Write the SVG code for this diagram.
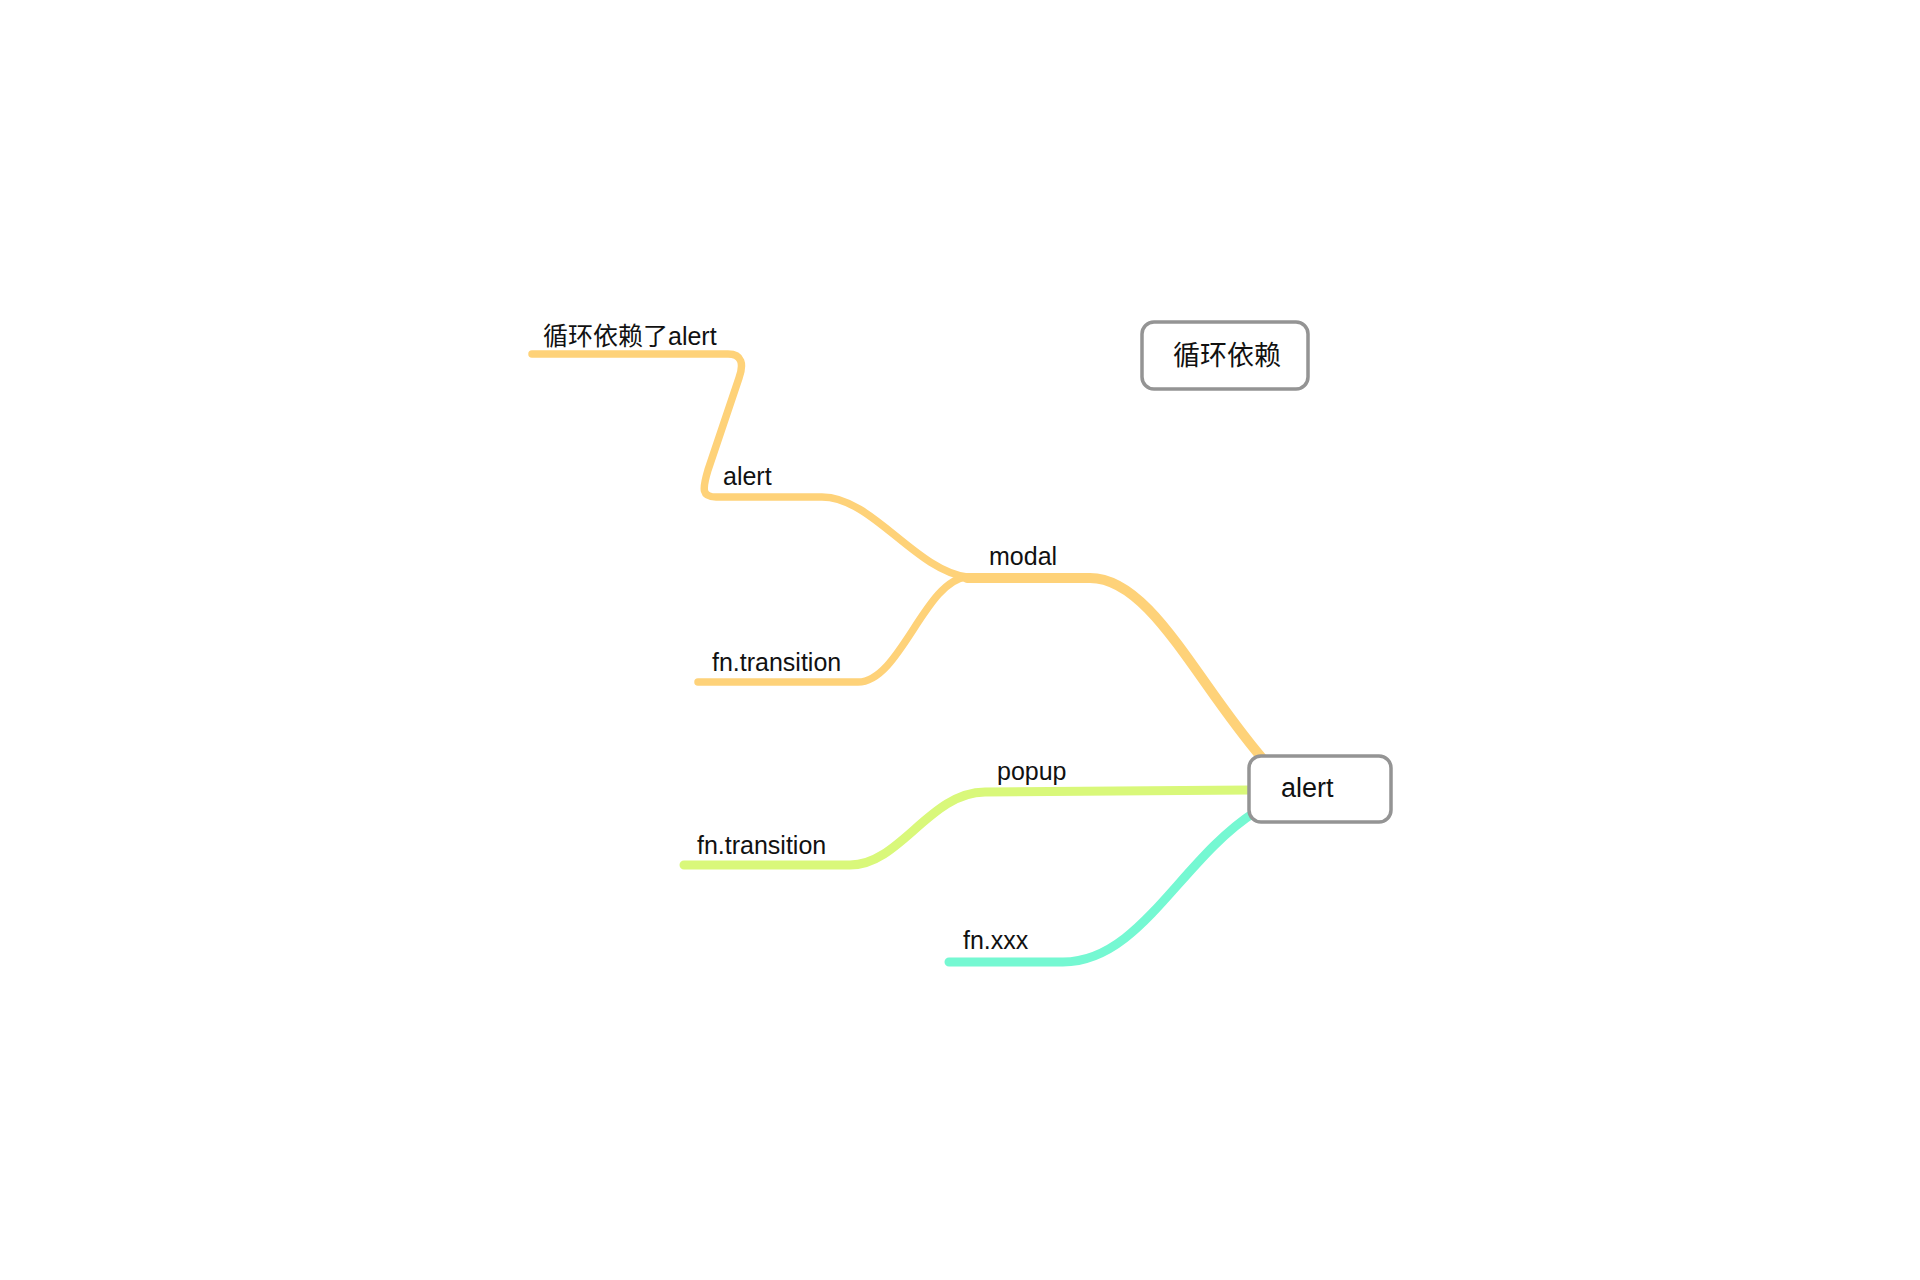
<svg xmlns="http://www.w3.org/2000/svg" width="1920" height="1280" viewBox="0 0 1920 1280">
<style>
.bg{fill:#ffffff}
.br{fill:none;stroke-linecap:round;stroke-linejoin:round}
.or{stroke:#fed279}
.gr{stroke:#d9f87a}
.te{stroke:#75f8d2}
.box{fill:#ffffff;stroke:#949494;stroke-width:3.5}
.lbl{font-family:"Liberation Sans","Noto Sans CJK SC",sans-serif;font-size:25px;fill:#111111}
.nd{font-family:"Liberation Sans","Noto Sans CJK SC",sans-serif;font-size:27px;fill:#111111}
</style>
<rect class="bg" x="0" y="0" width="1920" height="1280"/>
<g id="connectors">
<path class="br or" stroke-width="7.5" d="M 532 354 L 728 354 C 742 354 744 364 739 378 L 708 470 C 702 490 702 497 716 497 L 822 497 C 872 497 915 570 967 577"/>
<path class="br or" stroke-width="7.5" d="M 967 577 C 925 580 900 682 858 682 L 698 682"/>
<path class="br or" stroke-width="10" d="M 967 578 L 1090 578 C 1150 578 1195 680 1262 758"/>
<path class="br gr" stroke-width="9" d="M 1250 790 L 985 792 C 930 792 900 865 850 865 L 684 865"/>
<path class="br te" stroke-width="9" d="M 1255 812 C 1180 860 1140 962 1063 962 L 949 962"/>
</g>
<g id="label-xunhuan-alert"><text class="lbl" x="543" y="345">循环依赖了alert</text></g>
<g id="label-alert"><text class="lbl" x="723" y="485">alert</text></g>
<g id="label-modal"><text class="lbl" x="989" y="565">modal</text></g>
<g id="label-fn-transition-1"><text class="lbl" x="712" y="671">fn.transition</text></g>
<g id="label-popup"><text class="lbl" x="997" y="780">popup</text></g>
<g id="label-fn-transition-2"><text class="lbl" x="697" y="854">fn.transition</text></g>
<g id="label-fn-xxx"><text class="lbl" x="963" y="949">fn.xxx</text></g>
<g id="node-alert">
<rect class="box" x="1249" y="756" width="142" height="66" rx="12"/>
<text class="nd" x="1281" y="797">alert</text>
</g>
<g id="node-xunhuan">
<rect class="box" x="1142" y="322" width="166" height="67" rx="12"/>
<text class="nd" x="1173" y="365">循环依赖</text>
</g>
</svg>
